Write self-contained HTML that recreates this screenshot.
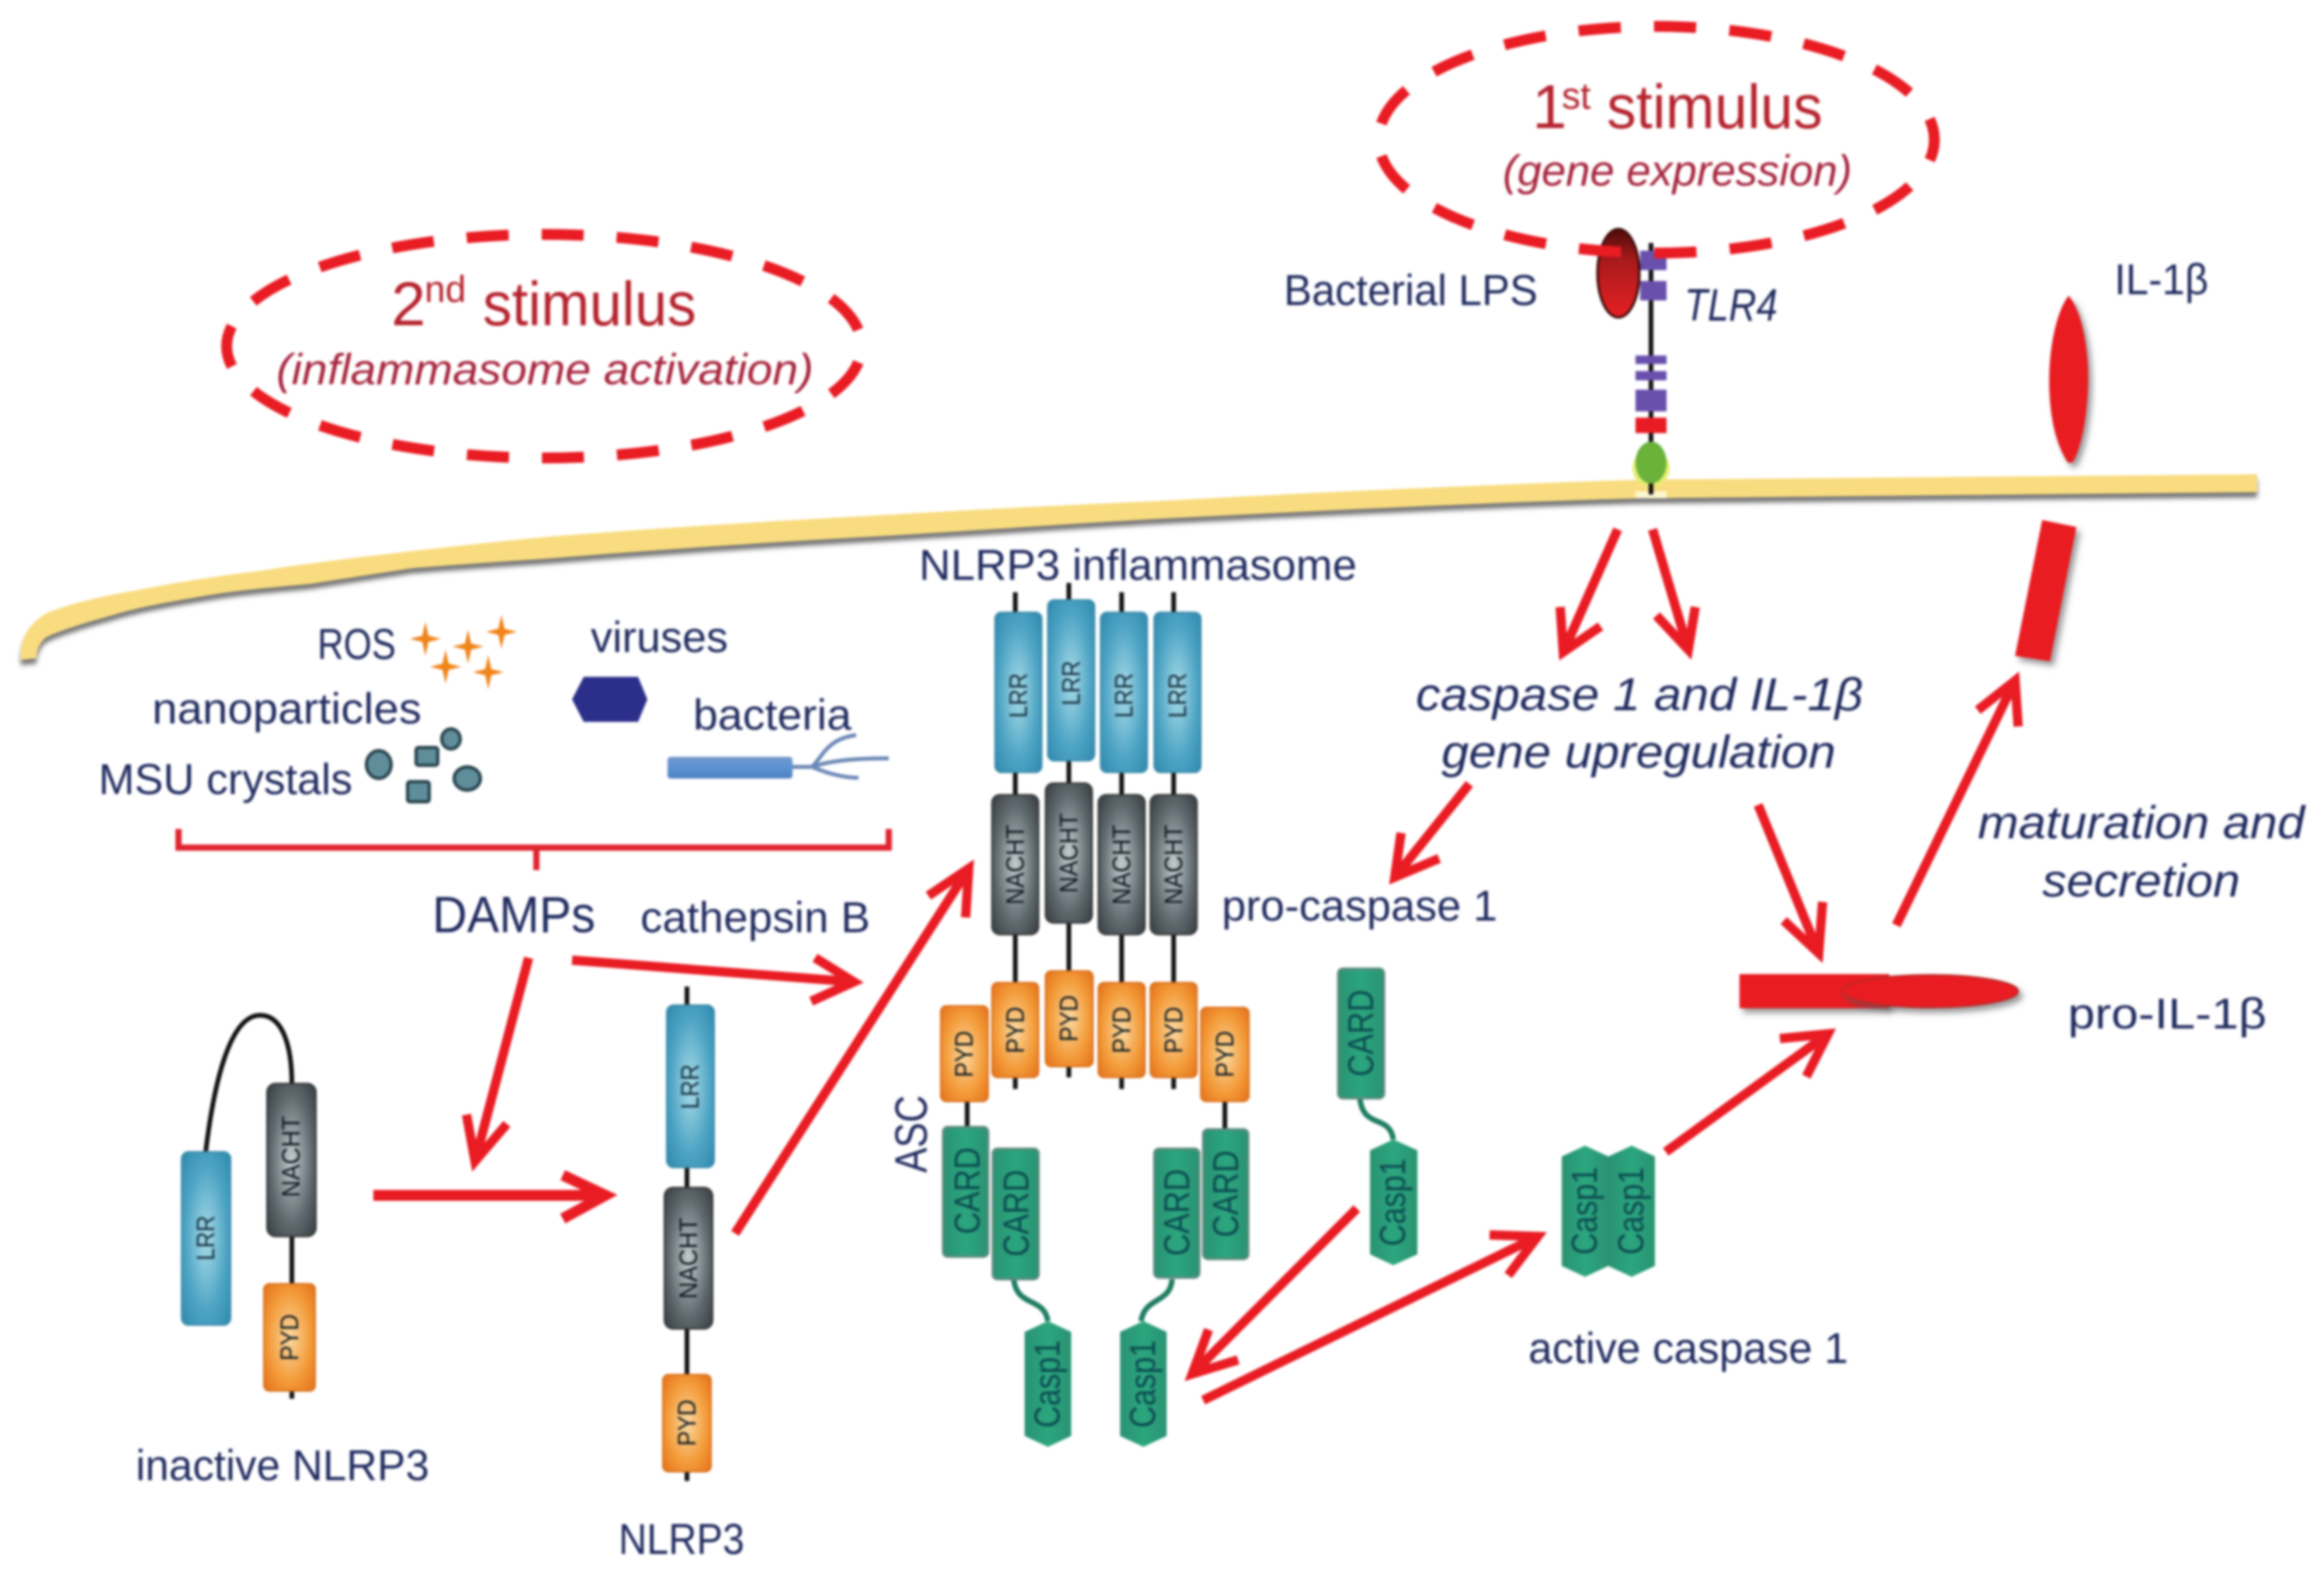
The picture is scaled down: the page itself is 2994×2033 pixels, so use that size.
<!DOCTYPE html>
<html><head><meta charset="utf-8"><title>NLRP3 inflammasome activation</title>
<style>
html,body{margin:0;padding:0;background:#fff}
svg{display:block;filter:blur(1.6px)}
text{font-family:"Liberation Sans",sans-serif}
.l{fill:#1f2a5e;font-size:56px}
.a{fill:none;stroke:#e91b23;stroke-width:12;stroke-linejoin:miter}
.i{fill:#1f2a5e;font-size:59px;font-style:italic}
.d{fill:#16303f;font-size:32px;text-anchor:middle}
.n{fill:#0e1a20;font-size:32px;text-anchor:middle}
.g{fill:#0b4a50;font-size:46px;text-anchor:middle}
.s{stroke:#111;stroke-width:6;fill:none}
.lk{stroke:#1f7d62;stroke-width:7;fill:none}
</style></head><body>
<svg xmlns="http://www.w3.org/2000/svg" width="2994" height="2033" viewBox="0 0 2994 2033">
<defs>
<radialGradient id="b" r=".7"><stop offset="0" stop-color="#a9dbe8"/><stop offset=".6" stop-color="#4da4c4"/><stop offset="1" stop-color="#2f88ad"/></radialGradient>
<radialGradient id="k" r=".7"><stop offset="0" stop-color="#c3cbcf"/><stop offset=".6" stop-color="#5f696e"/><stop offset="1" stop-color="#363c40"/></radialGradient>
<radialGradient id="o" r=".7"><stop offset="0" stop-color="#fbd9a0"/><stop offset=".6" stop-color="#f39a38"/><stop offset="1" stop-color="#e4701a"/></radialGradient>
<linearGradient id="c" x1="0" x2="1" y1="0" y2="0"><stop offset="0" stop-color="#2a9272"/><stop offset=".5" stop-color="#2ba67e"/><stop offset="1" stop-color="#2a9272"/></linearGradient>
<linearGradient id="lp" x1="0" x2="0" y1="0" y2="1"><stop offset="0" stop-color="#4e0b0b"/><stop offset=".35" stop-color="#a81a1c"/><stop offset="1" stop-color="#e62024"/></linearGradient>
<linearGradient id="rod" x1="0" x2="0" y1="0" y2="1"><stop offset="0" stop-color="#7598c8"/><stop offset=".5" stop-color="#5a93d6"/><stop offset="1" stop-color="#4f7fbc"/></linearGradient>
<filter id="ms" x="-5%" y="-20%" width="110%" height="150%"><feDropShadow dx="0" dy="7" stdDeviation="3" flood-color="#555" flood-opacity=".8"/></filter>
<filter id="rs" x="-20%" y="-20%" width="140%" height="160%"><feDropShadow dx="5" dy="6" stdDeviation="4" flood-color="#555" flood-opacity=".6"/></filter>
</defs>

<!-- membrane -->
<path filter="url(#ms)" fill="#f9dc80" d="M27 850C25 825 35 805 60 790C90 778 130 768 179 760C230 750 280 742 339 735C400 725 470 717 531 710C600 702 650 697 700 692C850 680 1000 671 1148 663C1280 655 1390 650 1500 645C1700 634 1900 625 2110 618L2908 611L2908 634L2110 642C1900 648 1700 658 1500 668C1390 674 1280 682 1148 690C1000 698 850 708 700 720C640 724 580 728 531 732C480 740 440 746 402 752C350 757 310 760 268 767C220 775 180 782 147 792C100 805 70 815 58 822C50 830 47 838 47 848Z"/>

<!-- TLR4 receptor -->
<rect x="2107" y="633" width="40" height="9" fill="#fdf7d0"/>
<ellipse cx="2127" cy="603" rx="24" ry="24" fill="#e6ee70"/>
<path class="s" d="M2127 313V637"/>
<rect x="2113" y="323" width="34" height="25" fill="#6a50ad"/>
<rect x="2113" y="362" width="34" height="25" fill="#6a50ad"/>
<rect x="2107" y="458" width="40" height="11" fill="#6a50ad"/>
<rect x="2107" y="478" width="40" height="12" fill="#6a50ad"/>
<rect x="2107" y="502" width="40" height="28" fill="#6a50ad"/>
<rect x="2107" y="538" width="40" height="20" fill="#e91b23"/>
<ellipse cx="2127" cy="596" rx="20" ry="27" fill="#6ab23a"/>
<path class="s" d="M2127 623V637"/>
<ellipse cx="2085" cy="352" rx="27" ry="57" fill="url(#lp)" stroke="#3a0808" stroke-width="3"/>

<!-- stimulus ellipses -->
<ellipse cx="701" cy="446" rx="409" ry="144" fill="none" stroke="#e91b23" stroke-width="14" pathLength="1900" stroke-dasharray="56 44" stroke-dashoffset="78"/>
<ellipse cx="2134" cy="180" rx="358" ry="146" fill="none" stroke="#e91b23" stroke-width="14" pathLength="1700" stroke-dasharray="56 44" stroke-dashoffset="28"/>

<text fill="#b5232e" font-size="80"><tspan x="504" y="419">2</tspan><tspan x="547" y="389" font-size="48">nd</tspan><tspan x="622" y="419" textLength="275" lengthAdjust="spacingAndGlyphs">stimulus</tspan></text>
<text x="356" y="495" fill="#a6233c" font-size="56" font-style="italic" textLength="692" lengthAdjust="spacingAndGlyphs">(inflammasome activation)</text>
<text fill="#b5232e" font-size="80"><tspan x="1974" y="165">1</tspan><tspan x="2012" y="140" font-size="48">st</tspan><tspan x="2070" y="165" textLength="278" lengthAdjust="spacingAndGlyphs">stimulus</tspan></text>
<text x="1936" y="239" fill="#a6233c" font-size="56" font-style="italic" textLength="450" lengthAdjust="spacingAndGlyphs">(gene expression)</text>

<!-- labels -->
<text class="l" x="1654" y="393" textLength="327" lengthAdjust="spacingAndGlyphs">Bacterial LPS</text>
<text class="l" x="2170" y="413" font-style="italic" style="font-size:58px" textLength="120" lengthAdjust="spacingAndGlyphs">TLR4</text>
<text class="l" x="2724" y="379" textLength="121" lengthAdjust="spacingAndGlyphs">IL-1β</text>
<text class="l" x="1184" y="747" textLength="564" lengthAdjust="spacingAndGlyphs">NLRP3 inflammasome</text>
<text class="l" x="409" y="849" textLength="101" lengthAdjust="spacingAndGlyphs">ROS</text>
<text class="l" x="761" y="840" textLength="177" lengthAdjust="spacingAndGlyphs">viruses</text>
<text class="l" x="893" y="940" textLength="204" lengthAdjust="spacingAndGlyphs">bacteria</text>
<text class="l" x="196" y="932" textLength="347" lengthAdjust="spacingAndGlyphs">nanoparticles</text>
<text class="l" x="127" y="1023" textLength="327" lengthAdjust="spacingAndGlyphs">MSU crystals</text>
<text class="l" x="557" y="1201" style="font-size:66px" textLength="210" lengthAdjust="spacingAndGlyphs">DAMPs</text>
<text class="l" x="825" y="1201" textLength="296" lengthAdjust="spacingAndGlyphs">cathepsin B</text>
<text class="l" x="175" y="1907" textLength="378" lengthAdjust="spacingAndGlyphs">inactive NLRP3</text>
<text class="l" x="797" y="2002" textLength="162" lengthAdjust="spacingAndGlyphs">NLRP3</text>
<text class="l" x="1574" y="1186" textLength="355" lengthAdjust="spacingAndGlyphs">pro-caspase 1</text>
<text class="l" x="2664" y="1325" textLength="256" lengthAdjust="spacingAndGlyphs">pro-IL-1β</text>
<text class="l" x="1969" y="1756" textLength="412" lengthAdjust="spacingAndGlyphs">active caspase 1</text>
<text class="l" transform="translate(1194,1511) rotate(-90)" textLength="100" lengthAdjust="spacingAndGlyphs" style="font-size:58px">ASC</text>
<text class="i" x="1824" y="915" textLength="576" lengthAdjust="spacingAndGlyphs">caspase 1 and IL-1β</text>
<text class="i" x="1857" y="989" textLength="508" lengthAdjust="spacingAndGlyphs">gene upregulation</text>
<text class="i" x="2548" y="1080" textLength="421" lengthAdjust="spacingAndGlyphs">maturation and</text>
<text class="i" x="2631" y="1155" textLength="255" lengthAdjust="spacingAndGlyphs">secretion</text>

<!-- DAMP icons -->
<g fill="#f0841a">
<path d="M548 801L552 819L568 823L552 827L548 845L544 827L528 823L544 819Z"/>
<path d="M603 811L607 829L623 833L607 837L603 855L599 837L583 833L599 829Z"/>
<path d="M646 792L650 810L666 814L650 818L646 836L642 818L626 814L642 810Z"/>
<path d="M574 837L578 855L594 859L578 863L574 881L570 863L554 859L570 855Z"/>
<path d="M629 844L633 862L649 866L633 870L629 888L625 870L609 866L625 862Z"/>
</g>
<polygon points="737,901 752,872 822,872 834,901 822,930 752,930" fill="#2b2f8a"/>
<g fill="#5f8d99" stroke="#243f4a" stroke-width="4">
<ellipse cx="488" cy="985" rx="16" ry="18"/>
<rect x="536" y="963" width="28" height="23" rx="3"/>
<ellipse cx="581" cy="952" rx="12" ry="13"/>
<ellipse cx="602" cy="1003" rx="17" ry="15"/>
<rect x="525" y="1007" width="28" height="26" rx="3"/>
</g>
<rect x="860" y="975" width="161" height="28" rx="4" fill="url(#rod)"/>
<path d="M1021 988H1046C1060 975 1065 952 1103 947M1046 988C1070 980 1100 977 1145 977M1046 988C1065 996 1085 1002 1106 1002" fill="none" stroke="#6a87b5" stroke-width="5"/>

<!-- bracket -->
<path d="M230 1068V1092H1145V1068M691 1092V1121" fill="none" stroke="#e0242e" stroke-width="8"/>

<!-- stems -->
<path class="s" d="M376 1593V1802M885 1271V1908M1308 763V1403M1377 751V1388M1445 763V1403M1512 763V1403M1246 1419V1452M1578 1419V1455"/>
<path d="M265 1484C275 1400 295 1308 335 1308C365 1308 376 1350 376 1396" fill="none" stroke="#111" stroke-width="6"/>

<!-- LRR -->
<g fill="url(#b)" stroke="#3c8aa8" stroke-width="2">
<rect x="234" y="1484" width="63" height="223" rx="9"/><rect x="859" y="1295" width="61" height="209" rx="9"/>
<rect x="1282" y="789" width="60" height="206" rx="8"/><rect x="1350" y="773" width="60" height="207" rx="8"/>
<rect x="1418" y="789" width="60" height="206" rx="8"/><rect x="1487" y="789" width="60" height="206" rx="8"/>
</g>
<text class="d" transform="translate(265,1595) rotate(-90)" y="11" textLength="58" lengthAdjust="spacingAndGlyphs">LRR</text>
<text class="d" transform="translate(889,1400) rotate(-90)" y="11" textLength="58" lengthAdjust="spacingAndGlyphs">LRR</text>
<text class="d" transform="translate(1312,896) rotate(-90)" y="11" textLength="58" lengthAdjust="spacingAndGlyphs">LRR</text>
<text class="d" transform="translate(1380,880) rotate(-90)" y="11" textLength="58" lengthAdjust="spacingAndGlyphs">LRR</text>
<text class="d" transform="translate(1448,896) rotate(-90)" y="11" textLength="58" lengthAdjust="spacingAndGlyphs">LRR</text>
<text class="d" transform="translate(1517,896) rotate(-90)" y="11" textLength="58" lengthAdjust="spacingAndGlyphs">LRR</text>

<!-- NACHT -->
<g fill="url(#k)" stroke="#333" stroke-width="2">
<rect x="344" y="1396" width="63" height="197" rx="11"/><rect x="856" y="1530" width="62" height="182" rx="11"/>
<rect x="1278" y="1024" width="60" height="180" rx="10"/><rect x="1347" y="1009" width="60" height="180" rx="10"/>
<rect x="1415" y="1024" width="60" height="180" rx="10"/><rect x="1482" y="1024" width="60" height="180" rx="10"/>
</g>
<text class="n" transform="translate(375,1490) rotate(-90)" y="11" textLength="105" lengthAdjust="spacingAndGlyphs">NACHT</text>
<text class="n" transform="translate(887,1621) rotate(-90)" y="11" textLength="105" lengthAdjust="spacingAndGlyphs">NACHT</text>
<text class="n" transform="translate(1308,1114) rotate(-90)" y="11" textLength="103" lengthAdjust="spacingAndGlyphs">NACHT</text>
<text class="n" transform="translate(1377,1099) rotate(-90)" y="11" textLength="103" lengthAdjust="spacingAndGlyphs">NACHT</text>
<text class="n" transform="translate(1445,1114) rotate(-90)" y="11" textLength="103" lengthAdjust="spacingAndGlyphs">NACHT</text>
<text class="n" transform="translate(1512,1114) rotate(-90)" y="11" textLength="103" lengthAdjust="spacingAndGlyphs">NACHT</text>

<!-- PYD -->
<g fill="url(#o)" stroke="#d8701c" stroke-width="2">
<rect x="340" y="1654" width="66" height="138" rx="7"/><rect x="854" y="1771" width="62" height="125" rx="7"/>
<rect x="1212" y="1296" width="61" height="123" rx="7"/><rect x="1278" y="1266" width="60" height="122" rx="7"/>
<rect x="1347" y="1251" width="61" height="123" rx="7"/><rect x="1415" y="1266" width="60" height="122" rx="7"/>
<rect x="1482" y="1266" width="60" height="122" rx="7"/><rect x="1547" y="1298" width="62" height="121" rx="7"/>
</g>
<text class="n" transform="translate(373,1723) rotate(-90)" y="11" textLength="60" lengthAdjust="spacingAndGlyphs">PYD</text>
<text class="n" transform="translate(885,1833) rotate(-90)" y="11" textLength="60" lengthAdjust="spacingAndGlyphs">PYD</text>
<text class="n" transform="translate(1242,1358) rotate(-90)" y="11" textLength="60" lengthAdjust="spacingAndGlyphs">PYD</text>
<text class="n" transform="translate(1308,1327) rotate(-90)" y="11" textLength="60" lengthAdjust="spacingAndGlyphs">PYD</text>
<text class="n" transform="translate(1377,1312) rotate(-90)" y="11" textLength="60" lengthAdjust="spacingAndGlyphs">PYD</text>
<text class="n" transform="translate(1445,1327) rotate(-90)" y="11" textLength="60" lengthAdjust="spacingAndGlyphs">PYD</text>
<text class="n" transform="translate(1512,1327) rotate(-90)" y="11" textLength="60" lengthAdjust="spacingAndGlyphs">PYD</text>
<text class="n" transform="translate(1578,1358) rotate(-90)" y="11" textLength="60" lengthAdjust="spacingAndGlyphs">PYD</text>

<!-- linkers -->
<path class="lk" d="M1306 1648C1310 1685 1345 1670 1350 1702M1510 1648C1508 1680 1475 1670 1470 1702M1752 1415C1756 1455 1790 1435 1795 1468"/>

<!-- CARD -->
<g fill="url(#c)" stroke="#5d8a7d" stroke-width="3">
<rect x="1215" y="1452" width="58" height="167" rx="6"/><rect x="1279" y="1480" width="59" height="168" rx="6"/>
<rect x="1487" y="1480" width="58" height="166" rx="6"/><rect x="1550" y="1455" width="58" height="167" rx="6"/>
<rect x="1724" y="1248" width="59" height="167" rx="6"/>
</g>
<text class="g" transform="translate(1246,1534) rotate(-90)" y="16" textLength="112" lengthAdjust="spacingAndGlyphs">CARD</text>
<text class="g" transform="translate(1309,1563) rotate(-90)" y="16" textLength="112" lengthAdjust="spacingAndGlyphs">CARD</text>
<text class="g" transform="translate(1516,1562) rotate(-90)" y="16" textLength="112" lengthAdjust="spacingAndGlyphs">CARD</text>
<text class="g" transform="translate(1579,1538) rotate(-90)" y="16" textLength="112" lengthAdjust="spacingAndGlyphs">CARD</text>
<text class="g" transform="translate(1753,1331) rotate(-90)" y="16" textLength="112" lengthAdjust="spacingAndGlyphs">CARD</text>

<!-- Casp1 -->
<g fill="url(#c)">
<polygon points="1320,1716 1350,1702 1380,1716 1380,1850 1350,1864 1320,1850"/>
<polygon points="1443,1716 1473,1702 1503,1716 1503,1850 1473,1864 1443,1850"/>
<polygon points="1765,1482 1795,1468 1826,1482 1826,1616 1795,1630 1765,1616"/>
<polygon points="2012,1490 2042,1476 2072,1490 2072,1631 2042,1645 2012,1631"/>
<polygon points="2072,1490 2102,1476 2132,1490 2132,1631 2102,1645 2072,1631"/>
</g>
<text class="g" transform="translate(1350,1783) rotate(-90)" y="15" textLength="113" lengthAdjust="spacingAndGlyphs">Casp1</text>
<text class="g" transform="translate(1473,1783) rotate(-90)" y="15" textLength="113" lengthAdjust="spacingAndGlyphs">Casp1</text>
<text class="g" transform="translate(1795,1549) rotate(-90)" y="15" textLength="113" lengthAdjust="spacingAndGlyphs">Casp1</text>
<text class="g" transform="translate(2042,1560) rotate(-90)" y="15" textLength="113" lengthAdjust="spacingAndGlyphs">Casp1</text>
<text class="g" transform="translate(2102,1560) rotate(-90)" y="15" textLength="113" lengthAdjust="spacingAndGlyphs">Casp1</text>

<!-- IL-1 beta -->
<path d="M2665 381C2682 400 2692 450 2690 500C2688 545 2680 580 2670 596L2664 596C2650 575 2640 540 2640 490C2640 445 2650 400 2665 381Z" fill="#e91b23" filter="url(#rs)"/>
<polygon points="2631,670 2675,679 2641,852 2596,845" fill="#e91b23" filter="url(#rs)"/>
<rect x="2241" y="1255" width="193" height="44" fill="#e91b23" filter="url(#rs)"/>
<ellipse cx="2487" cy="1277" rx="113" ry="21" fill="#e91b23" stroke="#b82a28" stroke-width="2" filter="url(#rs)"/>

<!-- arrows -->
<g class="a">
<path d="M2084 682L2014 840M2010 782L2014 840L2062 807"/>
<path d="M2129 682L2175 837M2134 793L2175 837L2184 782"/>
<path d="M2443 1192L2596 877M2548 915L2596 877L2600 936"/>
<path d="M1893 1010L1797 1130M1805 1073L1797 1130L1854 1106"/>
<path d="M2265 1037L2343 1228M2298 1186L2343 1228L2348 1162"/>
<path d="M2146 1484L2355 1332M2293 1338L2355 1332L2327 1387"/>
<path d="M1748 1557L1536 1770M1557 1713L1536 1770L1595 1752"/>
<path d="M1550 1804L1981 1593M1919 1591L1981 1593L1943 1643"/>
<path d="M681 1234L612 1496M601 1436L612 1496L653 1448"/>
<path d="M737 1237L1100 1265M1050 1234L1100 1265L1045 1290"/>
<path d="M481 1540L780 1540M725 1514L780 1540L725 1570" stroke-width="14"/>
<path d="M947 1589L1248 1119M1196 1154L1248 1119L1244 1182"/>
</g>
</svg>
</body></html>
